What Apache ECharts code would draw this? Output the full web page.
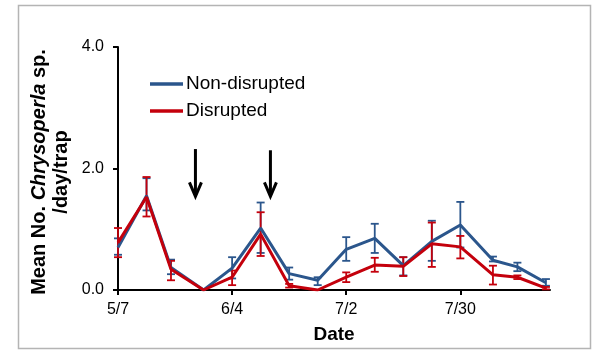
<!DOCTYPE html>
<html><head><meta charset="utf-8">
<script src="https://cdn.jsdelivr.net/npm/echarts@6/dist/echarts.min.js"></script>
<style>html,body{margin:0;padding:0;background:#fff}#c{width:594px;height:350px}</style>
</head><body><div id="c"></div>
<script>
// Days after 5/7 of each sampling date
const days = [0,7,13,21,28,35,42,49,56,63,70,77,84,92,98,105];
const tickDays = [0,28,56,84];
const tickLabels = ['5/7','6/4','7/2','7/30'];
const seriesNames = ['Non-disrupted','Disrupted'];
const nonDisrupted   = [0.70,1.55,0.37,0.00,0.36,1.02,0.27,0.16,0.67,0.85,0.40,0.80,1.07,0.49,0.38,0.12];
const nonDisruptedHi = [0.85,1.84,0.50,0.00,0.54,1.44,0.37,0.21,0.87,1.09,0.54,1.14,1.45,0.55,0.45,0.18];
const nonDisruptedLo = [0.58,1.31,0.26,0.00,0.19,0.61,0.17,0.08,0.48,0.61,0.24,0.48,0.70,0.47,0.31,0.07];
const disrupted      = [0.78,1.53,0.34,0.00,0.21,0.92,0.07,0.00,0.21,0.41,0.39,0.76,0.71,0.25,0.21,0.03];
const disruptedHi    = [1.02,1.86,0.48,0.00,0.32,1.28,0.10,0.00,0.29,0.53,0.54,1.11,0.89,0.40,0.24,0.05];
const disruptedLo    = [0.54,1.21,0.16,0.00,0.08,0.56,0.04,0.00,0.13,0.30,0.23,0.38,0.52,0.09,0.18,0.01];
// Arrow annotations (day, top value, tip value)
const arrowDays = [19, 37.4];
const arrowTop = [2.32, 2.30];
const arrowTip = [1.54, 1.54];

const BLUE = '#2b568c', RED = '#c4000c';
const FONT = '"Liberation Sans", Arial, sans-serif';

function errSeries(color, lo, hi){
  return {
    type:'custom', silent:true, clip:false,
    encode:{x:0, y:[1,2]},
    data: days.map((d,i)=>[d, lo[i], hi[i]]),
    renderItem:function(params, api){
      const x = api.value(0), l = api.value(1), h = api.value(2);
      if (h - l < 1e-9) return null;
      const p1 = api.coord([x,h]), p2 = api.coord([x,l]);
      const w = 4, st = {stroke:color, lineWidth:1.8};
      return {type:'group', children:[
        {type:'line', shape:{x1:p1[0],y1:p1[1],x2:p2[0],y2:p2[1]}, style:st},
        {type:'line', shape:{x1:p1[0]-w,y1:p1[1],x2:p1[0]+w,y2:p1[1]}, style:st},
        {type:'line', shape:{x1:p2[0]-w,y1:p2[1],x2:p2[0]+w,y2:p2[1]}, style:st}
      ]};
    }
  };
}

const chart = echarts.init(document.getElementById('c'));
chart.setOption({
  animation:false,
  textStyle:{fontFamily:FONT},
  grid:{left:118, right:44, top:47, bottom:60},
  legend:{
    data:seriesNames, orient:'vertical', left:145, top:69, icon:'rect',
    itemWidth:33, itemHeight:3.5, itemGap:7,
    textStyle:{fontSize:19, color:'#000', fontFamily:FONT, lineHeight:20, padding:[0,0,0,-2]}
  },
  xAxis:{
    type:'value', min:0, max:106, interval:28,
    name:'Date', nameLocation:'middle', nameGap:35,
    nameTextStyle:{fontSize:19, fontWeight:'bold', color:'#000', fontFamily:FONT},
    axisLine:{lineStyle:{color:'#000', width:2}},
    axisTick:{show:true, length:5, lineStyle:{color:'#000', width:2}, customValues:tickDays},
    axisLabel:{fontSize:16, color:'#000', margin:12, customValues:tickDays,
      formatter:v=>{const i = tickDays.indexOf(v); return i>=0 ? tickLabels[i] : '';}},
    splitLine:{show:false}
  },
  yAxis:{
    type:'value', min:0, max:4, interval:2,
    axisLine:{show:true, lineStyle:{color:'#000', width:2}},
    axisTick:{show:true, length:5, lineStyle:{color:'#000', width:2}},
    axisLabel:{fontSize:16, color:'#000', margin:14, formatter:v=>v.toFixed(1)},
    splitLine:{show:false}
  },
  graphic:[
    {type:'rect', silent:true, shape:{x:18.5, y:5.5, width:572, height:343},
     style:{fill:'none', stroke:'#b4b4b4', lineWidth:1.5}, z:-1},
    {type:'text', x:50, y:172, rotation:Math.PI/2, silent:true,
     style:{
       text:'{b|Mean No. }{i|Chrysoperla}{b| sp.}\n{b|/day/trap}',
       align:'center', verticalAlign:'middle',
       rich:{
         b:{fontSize:20, fontWeight:'bold', fontFamily:FONT, fill:'#000', lineHeight:22},
         i:{fontSize:20, fontWeight:'bold', fontStyle:'italic', fontFamily:FONT, fill:'#000', lineHeight:22}
       }
     }}
  ],
  series:[
    errSeries(BLUE, nonDisruptedLo, nonDisruptedHi),
    {name:seriesNames[0], type:'line', symbol:'none', data:days.map((d,i)=>[d, nonDisrupted[i]]),
     lineStyle:{color:BLUE, width:3}, itemStyle:{color:BLUE}},
    errSeries(RED, disruptedLo, disruptedHi),
    {name:seriesNames[1], type:'line', symbol:'none', data:days.map((d,i)=>[d, disrupted[i]]),
     lineStyle:{color:RED, width:3}, itemStyle:{color:RED}},
    {type:'custom', silent:true, clip:false, encode:{x:0, y:[1,2]},
     data: arrowDays.map((d,i)=>[d, arrowTop[i], arrowTip[i]]),
     renderItem:function(params, api){
       const x = api.value(0);
       const a = api.coord([x, api.value(1)]), b = api.coord([x, api.value(2)]);
       const st = {stroke:'#000', lineWidth:3, fill:'none'};
       return {type:'group', children:[
         {type:'line', shape:{x1:a[0],y1:a[1],x2:b[0],y2:b[1]-1}, style:st},
         {type:'polyline', shape:{points:[[b[0]-6,b[1]-14],[b[0],b[1]],[b[0]+6,b[1]-14]]}, style:st}
       ]};
     }}
  ]
});
</script>
</body></html>
